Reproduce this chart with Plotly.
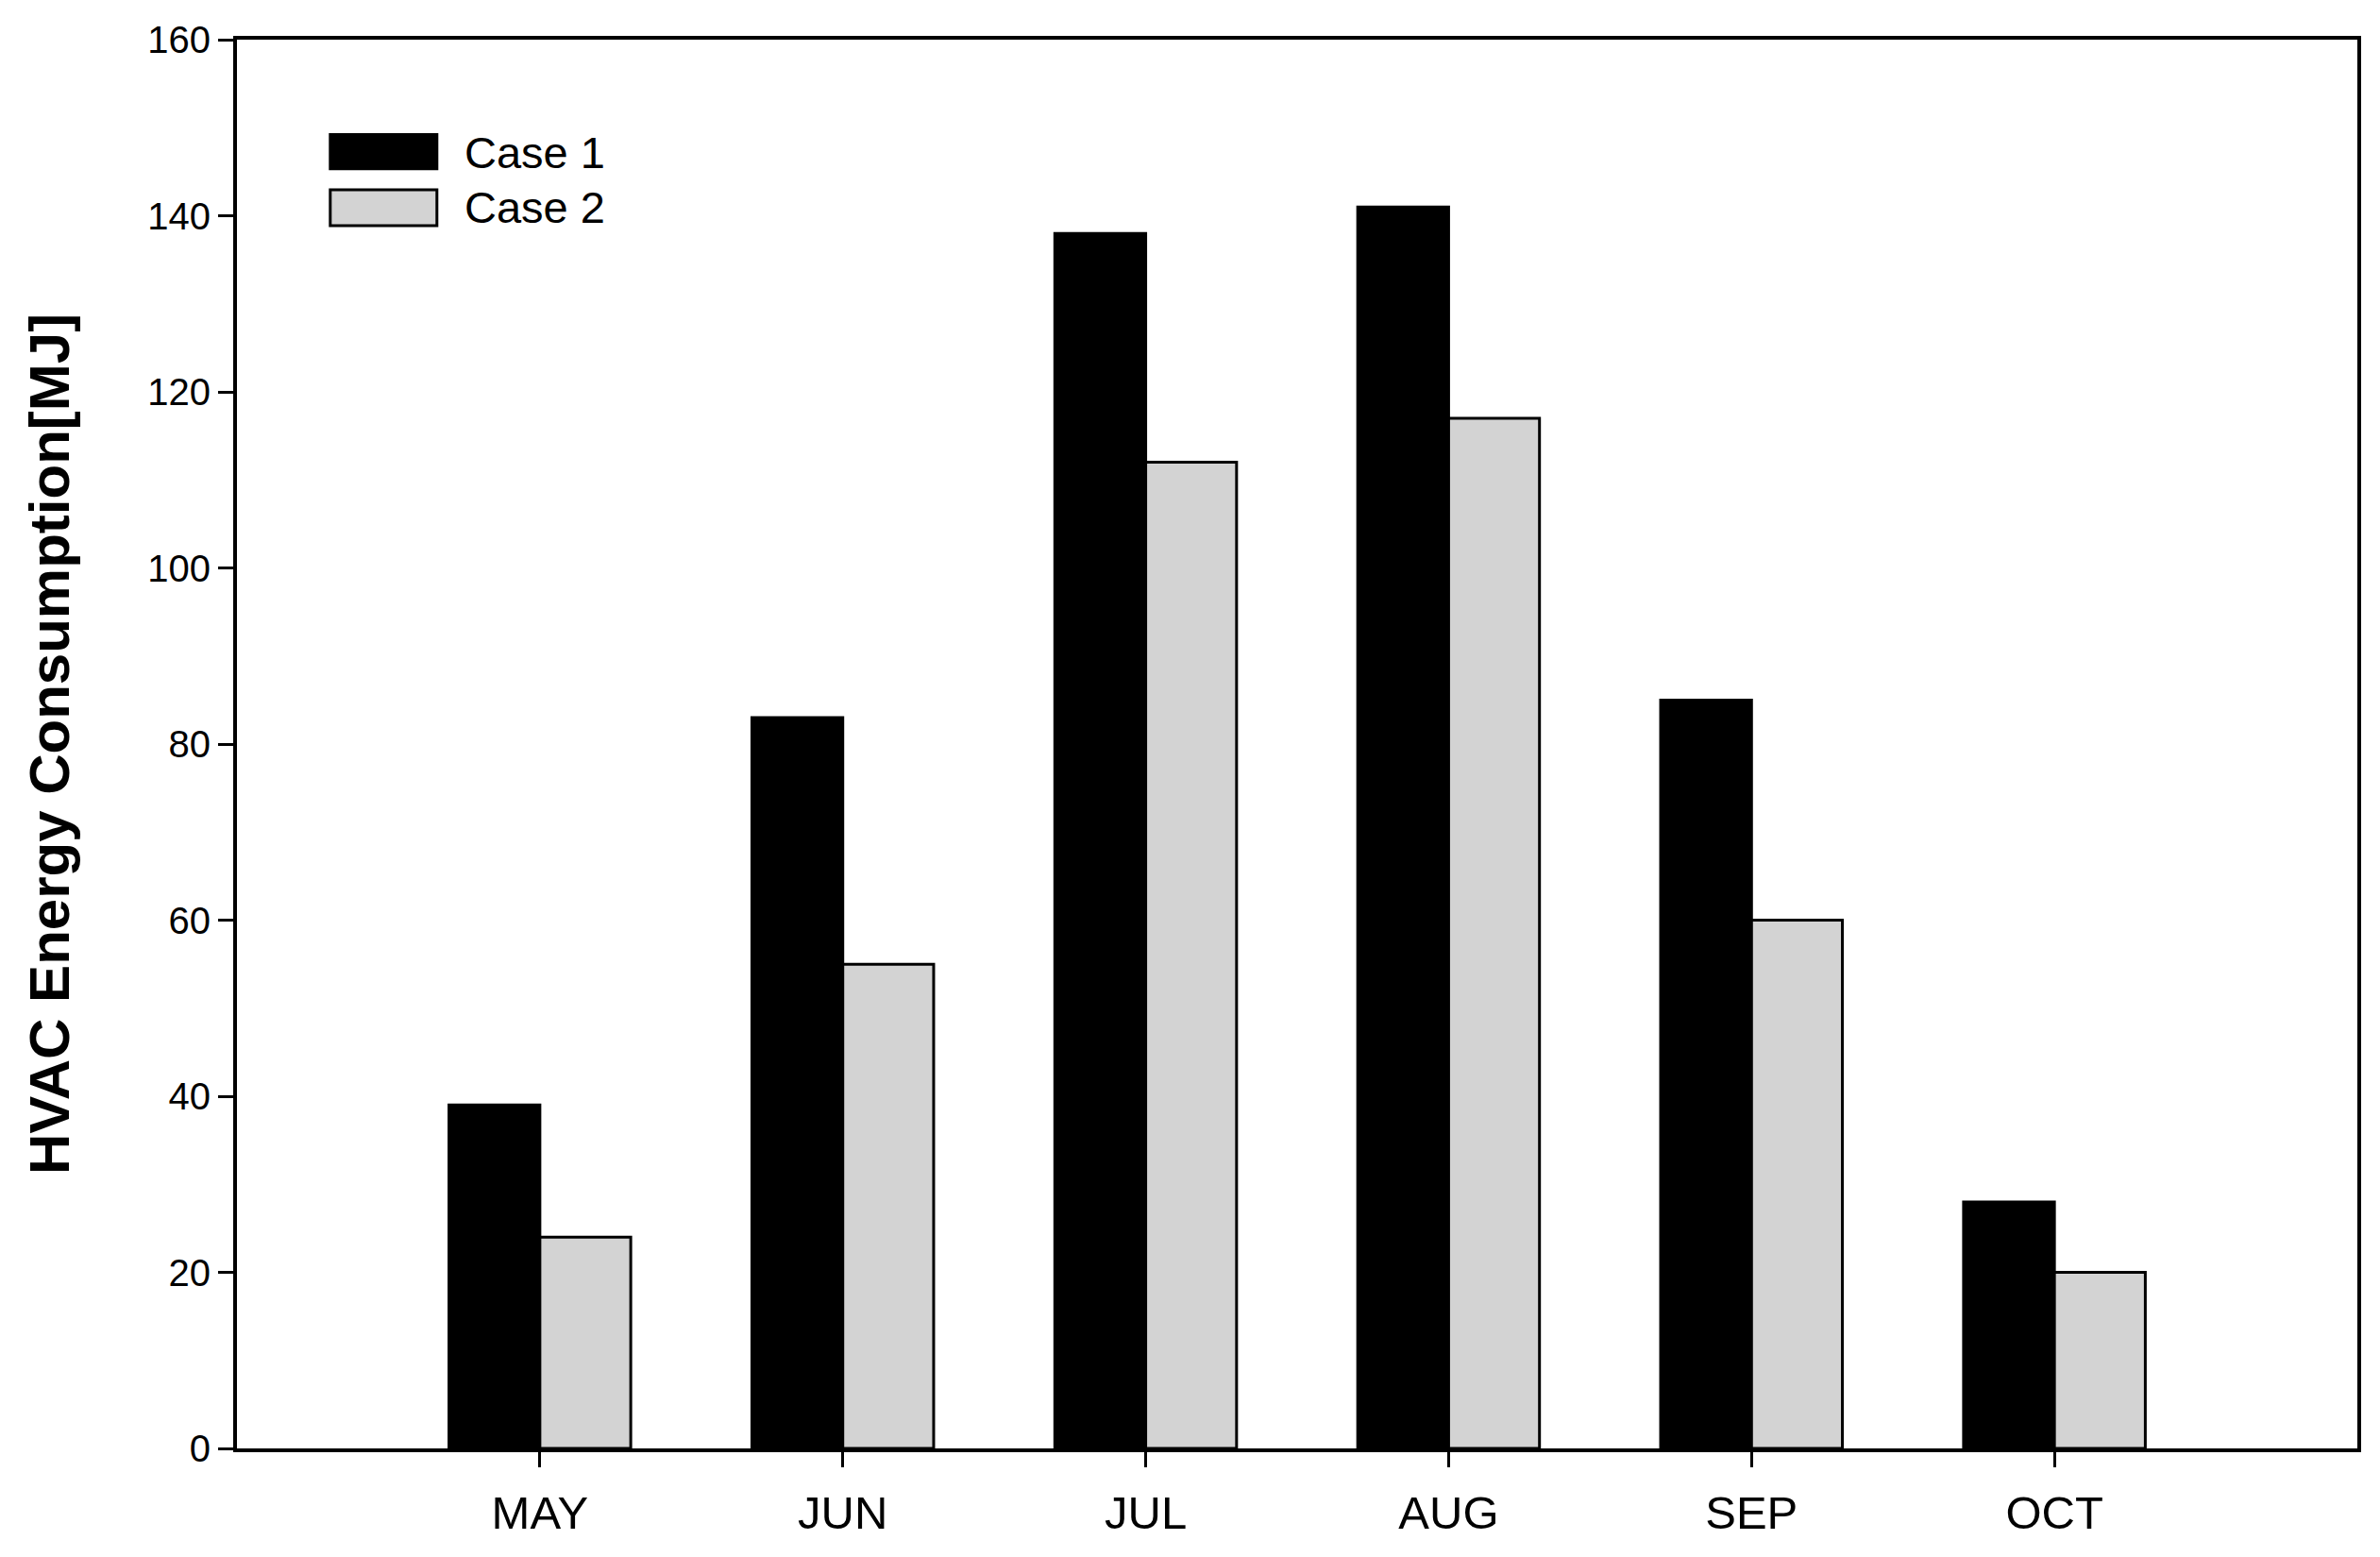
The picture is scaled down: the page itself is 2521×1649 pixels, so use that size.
import plotly.graph_objects as go

months = ["MAY", "JUN", "JUL", "AUG", "SEP", "OCT"]
case1 = [39, 83, 138, 141, 85, 28]
case2 = [24, 55, 112, 117, 60, 20]
y_ticks = [0, 20, 40, 60, 80, 100, 120, 140, 160]
series_names = ["Case 1", "Case 2"]

FONT = "Liberation Sans, Arial, sans-serif"

fig = go.Figure()
fig.add_trace(go.Bar(x=months, y=case1, name=series_names[0],
                     marker=dict(color="#000000", line=dict(color="#000000", width=3)),
                     showlegend=False))
fig.add_trace(go.Bar(x=months, y=case2, name=series_names[1],
                     marker=dict(color="#d3d3d3", line=dict(color="#000000", width=3)),
                     showlegend=False))

# custom legend (wide swatches like the original)
legend_items = [
    (series_names[0], "#000000", 0.9327, 0.9083, 0.920),
    (series_names[1], "#d3d3d3", 0.8935, 0.8679, 0.8807),
]
for name, col, y1, y0, ytxt in legend_items:
    fig.add_shape(type="rect", xref="paper", yref="paper",
                  x0=0.044, x1=0.0943, y0=y0, y1=y1,
                  fillcolor=col, line=dict(color="#000000", width=3))
    fig.add_annotation(xref="paper", yref="paper", x=0.1063, y=ytxt,
                       text=name, showarrow=False, xanchor="left", yanchor="middle",
                       font=dict(family=FONT, size=47, color="#000000"))

fig.update_layout(
    width=2505, height=1633,
    margin=dict(l=243, r=14, t=25, b=92),
    paper_bgcolor="white", plot_bgcolor="white",
    barmode="group", bargap=0.4, bargroupgap=0,
    font=dict(family=FONT, color="#000000"),
)
fig.update_xaxes(
    type="category", range=[-1, 6],
    showline=True, linecolor="#000000", linewidth=4, mirror=True,
    ticks="outside", ticklen=16, tickwidth=3, tickcolor="#000000",
    tickfont=dict(family=FONT, size=49, color="#000000"), ticklabelstandoff=6,
    showgrid=False, zeroline=False,
)
fig.update_yaxes(
    range=[0, 160], tickvals=y_ticks,
    showline=True, linecolor="#000000", linewidth=4, mirror=True,
    ticks="outside", ticklen=16, tickwidth=3, tickcolor="#000000",
    tickfont=dict(family=FONT, size=40, color="#000000"),
    showgrid=False, zeroline=False,
    title=dict(text="<b>HVAC Energy Consumption[MJ]</b>",
               font=dict(family=FONT, size=60, color="#000000"), standoff=64),
)

fig.write_html("out.html")
